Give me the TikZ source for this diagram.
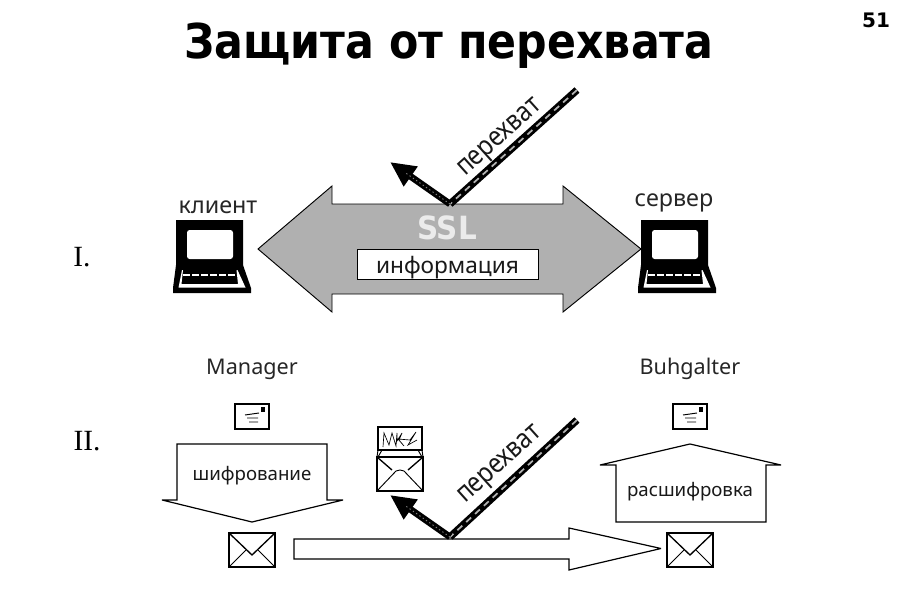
\documentclass[tikz,border=0pt]{standalone}
\usepackage{fontspec}
\usepackage{graphicx}
\setmainfont{Noto Sans}
\newfontfamily\titlefont{DejaVu Sans}
\newfontfamily\romanfont{Liberation Serif}
\usetikzlibrary{arrows.meta}
\tikzset{
  outline/.style={draw=black,line width=.9pt,fill=white,line join=miter,miter limit=2},
  label text/.style={inner sep=0pt,font=\fontsize{17.5}{20}\selectfont,text=black!85},
  latin text/.style={inner sep=0pt,font=\fontsize{16.2}{20}\selectfont,text=black!85},
  inner text/.style={inner sep=0pt,font=\fontsize{14}{18}\selectfont,text=black!90},
  tap text/.style={inner sep=0pt,rotate=42,font=\fontsize{20.5}{24}\selectfont,text=black!90},
  roman text/.style={inner sep=0pt,font=\romanfont\fontsize{22}{24}\selectfont},
  taprail/.style={draw=black,line width=5.5pt},
  tapdash/.style={draw=black!30,line width=1.3pt,dash pattern=on 5pt off 4pt},
  tapshaft/.style={draw=black,line width=5pt,-{Triangle[length=19pt,width=17pt]}},
  tapdots/.style={draw=black!50,line width=.7pt,dash pattern=on 1pt off 2pt},
}
\newcommand{\computer}[2]{%
  \begin{scope}[shift={(#1,#2)}]
    \fill[black] (0,0) -- (67,0) -- (67,45) -- (75,68) -- (75,73) -- (-3,73) -- (-3,68) -- (0,45) -- cycle;
    \fill[white,rounded corners=2pt] (11,10) rectangle (57,39);
    \foreach \k in {7,16,25,34,43,52}{\fill[white] (\k,53.5) rectangle +(7,2.6);}
    \fill[white] (2.5,67.5) -- (6,50) -- (7,50) -- (5.5,64) -- (62,64) -- (60.5,50) -- (61.5,50) -- (69.5,67.5) -- cycle;
  \end{scope}}
\newcommand{\envelope}[2]{%
  \begin{scope}[shift={(#1,#2)}]
    \draw[outline] (0,0) rectangle (46,34);
    \draw[black,line width=1pt] (0,0) -- (23,22) -- (46,0);
    \draw[black,line width=.6pt] (0,34) -- (17,17) (46,34) -- (29,17);
  \end{scope}}
\newcommand{\postcard}[2]{%
  \begin{scope}[shift={(#1,#2)}]
    \draw[outline] (0,0) rectangle (34,25);
    \fill[black] (26,3) rectangle (30,8);
    \draw[black,line width=.7pt] (10,11) -- (24,9) (12,14) -- (23,14) (14,18) -- (23,18);
  \end{scope}}
\begin{document}
\begin{tikzpicture}[x=.75pt,y=-.75pt]
\useasboundingbox (0,0) rectangle (900,600);
\fill[white] (0,0) rectangle (900,600);

\node[inner sep=0pt,font=\titlefont\bfseries\fontsize{36}{40}\selectfont] (title) at (449,46) {\scalebox{.89}[1]{Защита от перехвата}};
\node[inner sep=0pt,font=\titlefont\bfseries\fontsize{15}{18}\selectfont] (page) at (876,20) {51};

% --- Part I
\node[roman text] (one) at (82,257) {I.};
\node[label text] (client) at (218,207) {клиент};
\node[label text] (server) at (674,203) {сервер};
\computer{176}{220}
\computer{641}{220}

\draw[draw=black,line width=.7pt,fill=black!31] (258,249) -- (332,186) -- (332,204) -- (563,204) -- (563,186) -- (641,249) -- (563,312) -- (563,294) -- (332,294) -- (332,312) -- cycle;
\node[inner sep=0pt,font=\titlefont\bfseries\fontsize{24}{28}\selectfont,text=white!92!black] (ssl) at (447,228) {\scalebox{.92}[1]{SSL}};
\node[draw=black,line width=.7pt,fill=white,minimum width=135.75pt,minimum height=22.5pt,inner sep=0pt,text depth=0pt,font=\fontsize{17}{20}\selectfont,text=black!90] (info) at (447.5,264) {\raisebox{-1.5pt}{информация}};

\coordinate (tapA) at (577,90);
\coordinate (tapV) at (450,204);
\coordinate (tapT) at (390,162);
\draw[taprail] (tapA) -- (tapV);
\draw[tapdash] (tapA) -- (tapV);
\draw[tapshaft] (tapV) -- (tapT);
\draw[tapdots] (tapV) -- (405,172.5);
\node[tap text] (tap1) at (501,139) {\scalebox{.87}[1]{перехват}};

% --- Part II
\node[roman text] (two) at (87,441) {II.};
\node[latin text] (mgr) at (252,369) {Manager};
\node[latin text] (buh) at (690,369) {Buhgalter};
\postcard{235}{404}
\postcard{673}{404}

\draw[outline] (177,444) -- (327,444) -- (327,500) -- (343,500) -- (252,522) -- (162,500) -- (177,500) -- cycle;
\node[inner text] (enc) at (252,476) {шифрование};

\draw[outline] (690,444) -- (781,465) -- (766,465) -- (766,522) -- (616,522) -- (616,465) -- (600,465) -- cycle;
\node[inner text] (dec) at (690,492) {расшифровка};

\envelope{229}{533}
\envelope{667}{533}

\draw[outline] (294,539) -- (569,539) -- (569,528) -- (661,548.5) -- (569,570) -- (569,559) -- (294,559) -- cycle;

% intercepted letter
\draw[outline] (378,427) rectangle (422,450);
\draw[black,line width=.5pt] (383,447) -- (384,433) -- (389,445) -- (392,433) -- (396,446) -- (397,433) -- (397,441) -- (402,433) -- (399,440) -- (404,446) -- (398,439) -- (410,440) -- (416,432) -- (408,445) -- (417,440);
\draw[black,line width=.7pt] (378,450) -- (377,457) (382,450) -- (378,457) (422,450) -- (423,457) (418,450) -- (422,457);
\draw[outline] (377,457) rectangle (423,491);
\draw[black,line width=1pt] (377,457) -- (392,470);
\draw[black,line width=1pt] (423,457) -- (408,470);
\draw[black,line width=.7pt] (377,491) -- (396,471) -- (400,470) -- (404,471) -- (423,491);
\draw[black,line width=2pt] (377,491) -- (423,491);

\coordinate (tapB) at (577,420);
\coordinate (tapW) at (450,537);
\coordinate (tapU) at (390,495);
\draw[taprail] (tapB) -- (tapW);
\draw[tapdash] (tapB) -- (tapW);
\draw[tapshaft] (tapW) -- (tapU);
\draw[tapdots] (tapW) -- (405,505.5);
\node[tap text] (tap2) at (501,466) {\scalebox{.87}[1]{перехват}};
\end{tikzpicture}
\end{document}
